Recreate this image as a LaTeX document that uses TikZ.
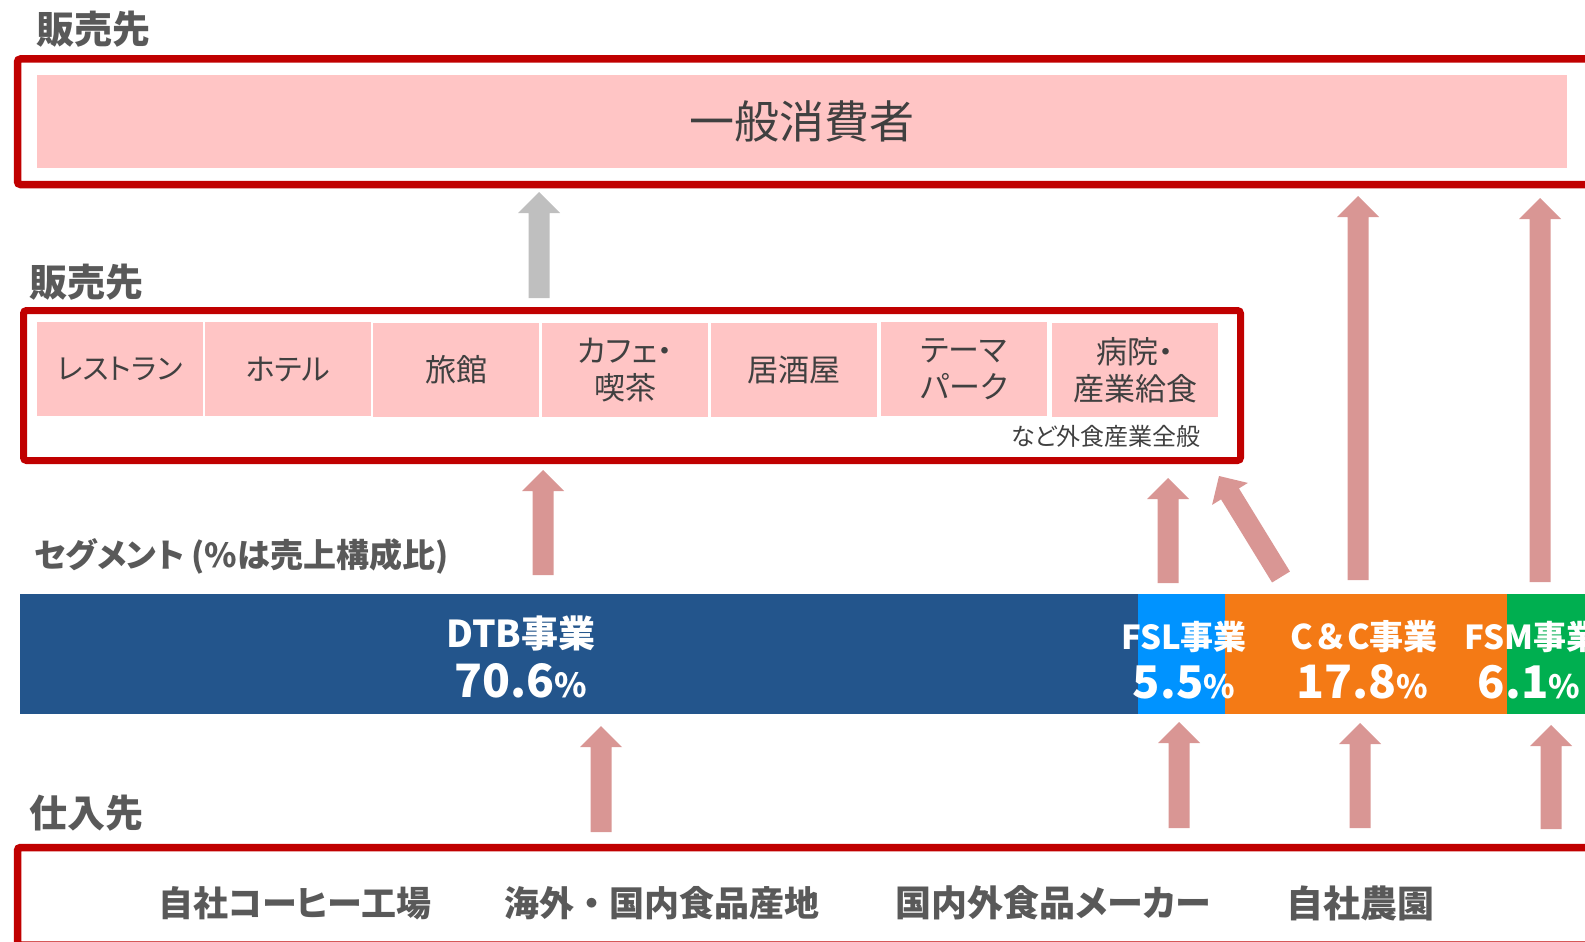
\documentclass[tikz,border=0pt]{standalone}
\usepackage{fontspec}
\setmainfont{Noto Sans CJK JP}[RawFeature={+palt}]
\newfontfamily\nopalt{Noto Sans CJK JP}
\usetikzlibrary{calc}
\definecolor{redline}{HTML}{C00000}
\definecolor{pinkfill}{HTML}{FFC5C5}
\definecolor{arrowpink}{HTML}{D99694}
\definecolor{arrowgray}{HTML}{BFBFBF}
\definecolor{dtbblue}{HTML}{23558C}
\definecolor{fslblue}{HTML}{0093FF}
\definecolor{ccorange}{HTML}{F47A15}
\definecolor{fsmgreen}{HTML}{00AF50}
\definecolor{labelgray}{HTML}{595959}
\definecolor{textgray}{HTML}{404040}
\newcommand\myfs[1]{\fontsize{#1}{#1}\selectfont}
\begin{document}
\begin{tikzpicture}[x=1pt,y=-1pt,
  redbox/.style={draw=redline, line width=7.5pt, rounded corners=3pt, inner sep=0pt, outer sep=0pt},
  pinkbox/.style={fill=pinkfill, draw=none, inner sep=0pt, outer sep=0pt, text=textgray},
  cellbox/.style={pinkbox, minimum width=166pt, minimum height=94pt, align=center, font=\fontsize{31}{37}\selectfont},
  seglabel/.style={anchor=west, inner sep=0pt, text=labelgray, font=\myfs{38}\bfseries},
  segbar/.style={draw=none, inner sep=0pt, outer sep=0pt, minimum height=120pt},
  bartext/.style={inner sep=0pt, text=white, font=\bfseries},
  suptext/.style={inner sep=0pt, text=labelgray, font=\myfs{36}\bfseries},
  barrow/.style={fill=#1, draw=none, to path={
    ($(\tikztostart)!10.5pt!90:(\tikztotarget)$)
    -- ($(\tikztotarget)!21pt!(\tikztostart)!10.5pt!-90:(\tikztostart)$)
    -- ($(\tikztotarget)!21pt!(\tikztostart)!21pt!-90:(\tikztostart)$)
    -- (\tikztotarget)
    -- ($(\tikztotarget)!21pt!(\tikztostart)!21pt!90:(\tikztostart)$)
    -- ($(\tikztotarget)!21pt!(\tikztostart)!10.5pt!90:(\tikztostart)$)
    -- ($(\tikztostart)!10.5pt!-90:(\tikztotarget)$)
    -- cycle}},
]
\useasboundingbox (0,0) rectangle (1585,942);
\clip (0,0) rectangle (1585,942);

% ---- top: consumers
\node[seglabel] (lab1) at (36,29.5) {販売先};
\node[redbox, minimum width=1592.5pt, minimum height=125.5pt] (sell1) at (813.75,121.75) {};
\node[pinkbox, minimum width=1530pt, minimum height=93pt, font=\myfs{45}] (consumer) at (802,121.5) {一般消費者};

% ---- second: food service
\node[seglabel] (lab2) at (29,282) {販売先};
\node[redbox, line width=7pt, minimum width=1217pt, minimum height=150pt] (sell2) at (632,385.5) {};
\node[cellbox, font=\myfs{29}] (c1) at (120,369) {レストラン};
\node[cellbox, font=\myfs{30}] (c2) at (288,369) {ホテル};
\node[cellbox] (c3) at (456,370) {旅館};
\node[cellbox] (c4) at (625,370) {カフェ・\\喫茶};
\node[cellbox] (c5) at (794,370) {居酒屋};
\node[cellbox] (c6) at (964,369) {テーマ\\パーク};
\node[cellbox] (c7) at (1135,370) {病院・\\産業給食};
\node[anchor=east, inner sep=0pt, text=textgray, font=\myfs{24}] (note) at (1201,436) {など外食産業全般};

% ---- segments
\node[seglabel, font=\myfs{33}\bfseries] (lab3) at (34,556) {セグメント (\%は売上構成比)};
\node[segbar, fill=dtbblue, minimum width=1118pt] (dtb) at (579,654) {};
\node[segbar, fill=fslblue, minimum width=87pt] (fsl) at (1181.5,654) {};
\node[segbar, fill=ccorange, minimum width=282pt] (cc) at (1366,654) {};
\node[segbar, fill=fsmgreen, minimum width=97pt] (fsm) at (1555.5,654) {};

\node[bartext, font=\myfs{37}\bfseries] (dtbname) at (521,633) {DTB事業};
\node[bartext, anchor=base] (dtbpct) at (521,697) {{\myfs{46}70.6}{\myfs{33}\%}};
\node[bartext, font=\myfs{33}\bfseries] (fslname) at (1184,637) {FSL事業};
\node[bartext, anchor=base] (fslpct) at (1184,698) {{\myfs{45}5.5}{\myfs{32}\%}};
\node[bartext, font=\nopalt\myfs{34}\bfseries] (ccname) at (1364,637) {C＆C事業};
\node[bartext, anchor=base] (ccpct) at (1362,698) {{\myfs{46}17.8}{\myfs{32}\%}};
\node[bartext, font=\myfs{33}\bfseries] (fsmname) at (1532,637) {FSM事業};
\node[bartext, anchor=base] (fsmpct) at (1529,698) {{\myfs{45}6.1}{\myfs{32}\%}};

% ---- suppliers
\node[seglabel] (lab4) at (29,813) {仕入先};
\node[redbox, minimum width=1592.5pt, minimum height=97.5pt] (supply) at (813.75,896.25) {};
\node[suptext, font=\myfs{35}\bfseries] (s1) at (295,903) {自社コーヒー工場};
\node[suptext, font=\nopalt\myfs{35}\bfseries] (s2) at (662,903) {海外・国内食品産地};
\node[suptext] (s3) at (1053,903) {国内外食品メーカー};
\node[suptext, font=\myfs{37}\bfseries] (s4) at (1360,903) {自社農園};

% ---- arrow end points
\coordinate (g1s) at (539,298);  \coordinate (g1e) at (539,192);
\coordinate (d2s) at (543,575);  \coordinate (d2e) at (543,470);
\coordinate (f2s) at (1168,583); \coordinate (f2e) at (1168,478);
\coordinate (c2s) at (1281,577); \coordinate (c2e) at (1219,476);
\coordinate (c1s) at (1358,580); \coordinate (c1e) at (1358,196);
\coordinate (m1s) at (1540,582); \coordinate (m1e) at (1540,198);
\coordinate (ds)  at (601,832);  \coordinate (de)  at (601,726);
\coordinate (fs)  at (1179,828); \coordinate (fe)  at (1179,722);
\coordinate (cs)  at (1360,828); \coordinate (ce)  at (1360,723);
\coordinate (ms)  at (1551,829); \coordinate (me)  at (1551,725);

\path[barrow=arrowgray] (g1s) to (g1e);
\path[barrow=arrowpink] (d2s) to (d2e);
\path[barrow=arrowpink] (f2s) to (f2e);
\path[barrow=arrowpink] (c2s) to (c2e);
\path[barrow=arrowpink] (c1s) to (c1e);
\path[barrow=arrowpink] (m1s) to (m1e);
\path[barrow=arrowpink] (ds) to (de);
\path[barrow=arrowpink] (fs) to (fe);
\path[barrow=arrowpink] (cs) to (ce);
\path[barrow=arrowpink] (ms) to (me);
\end{tikzpicture}
\end{document}
